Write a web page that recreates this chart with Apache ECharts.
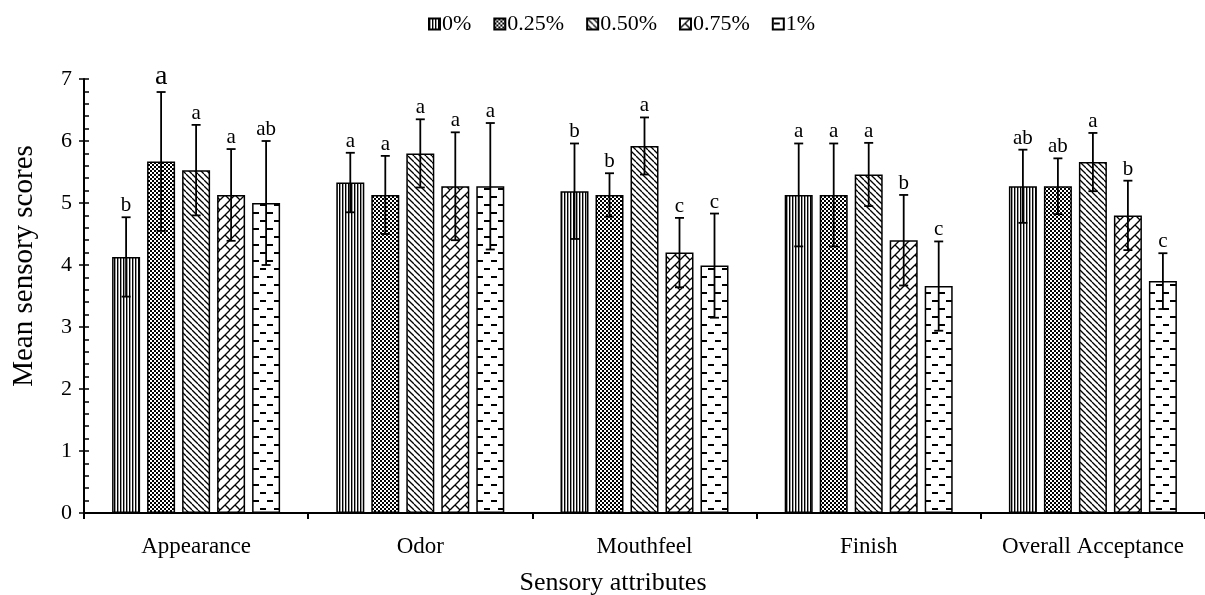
<!DOCTYPE html>
<html>
<head>
<meta charset="utf-8">
<script src="https://cdn.jsdelivr.net/npm/echarts@6/dist/echarts.min.js"></script>
<style>
html,body{margin:0;padding:0;background:#fff;}
#chart{width:1205px;height:595px;}
</style>
</head>
<body>
<div id="chart"></div>
<script>
// ---- data ----
const categories = ['Appearance', 'Odor', 'Mouthfeel', 'Finish', 'Overall Acceptance'];
const seriesNames = ['0%', '0.25%', '0.50%', '0.75%', '1%'];
const mean0   = [4.13, 5.33, 5.19, 5.13, 5.27];
const mean025 = [5.67, 5.13, 5.13, 5.13, 5.27];
const mean050 = [5.53, 5.80, 5.92, 5.46, 5.66];
const mean075 = [5.13, 5.27, 4.20, 4.40, 4.80];
const mean1   = [5.00, 5.27, 3.99, 3.66, 3.74];
const sd0   = [0.64, 0.48, 0.77, 0.83, 0.59];
const sd025 = [1.12, 0.63, 0.35, 0.83, 0.45];
const sd050 = [0.73, 0.55, 0.46, 0.51, 0.47];
const sd075 = [0.74, 0.87, 0.56, 0.73, 0.56];
const sd1   = [1.00, 1.02, 0.84, 0.72, 0.45];
const letters0   = ['b', 'a', 'b', 'a', 'ab'];
const letters025 = ['a', 'a', 'b', 'a', 'ab'];
const letters050 = ['a', 'a', 'a', 'a', 'a'];
const letters075 = ['a', 'a', 'c', 'b', 'b'];
const letters1   = ['ab', 'a', 'c', 'c', 'c'];
const yTicks = [0, 1, 2, 3, 4, 5, 6, 7];

const means = [mean0, mean025, mean050, mean075, mean1];
const sds = [sd0, sd025, sd050, sd075, sd1];
const letters = [letters0, letters025, letters050, letters075, letters1];

// ---- patterns ----
function pat(w, h, draw) {
  const c = document.createElement('canvas');
  c.width = w; c.height = h;
  const g = c.getContext('2d');
  g.fillStyle = '#fff'; g.fillRect(0, 0, w, h);
  g.fillStyle = '#000'; g.strokeStyle = '#000';
  draw(g, w, h);
  return c;
}
const patterns = [
  pat(3, 3, g => { g.fillRect(0, 0, 1.4, 3); }),
  pat(4, 4, g => { g.fillRect(0, 0, 2, 2); g.fillRect(2, 2, 2, 2); }),
  pat(6, 6, (g, w) => {
    g.lineWidth = 1.3;
    [-w, 0, w].forEach(k => { g.beginPath(); g.moveTo(k, 0); g.lineTo(k + w, w); g.stroke(); });
  }),
  pat(10, 10, (g, s) => {
    g.lineWidth = 1.3;
    [-s, 0, s].forEach(k => { g.beginPath(); g.moveTo(k, s); g.lineTo(k + s, 0); g.stroke(); });
    g.beginPath(); g.moveTo(s / 2, s / 2); g.lineTo(s, s); g.stroke();
    g.beginPath(); g.moveTo(s / 2 - s, s / 2); g.lineTo(0, s); g.stroke();
  }),
  pat(14, 16, g => { g.fillRect(1, 4, 6, 2); g.fillRect(8, 12, 6, 2); })
];

const FONT = '"Liberation Serif", "Times New Roman", serif';
const BAR_W = 28, BAR_GAP = 7;

const barSeries = seriesNames.map((name, i) => ({
  name: name,
  type: 'bar',
  data: means[i],
  barWidth: BAR_W,
  barGap: (BAR_GAP / BAR_W * 100) + '%',
  itemStyle: { color: { image: patterns[i], repeat: 'repeat' }, borderColor: '#000', borderWidth: 1.5 },
  z: 2
}));

const errRows = [];
const errLetters = [];
categories.forEach((c, ci) => {
  seriesNames.forEach((n, si) => {
    errRows.push([ci, si, means[si][ci], sds[si][ci]]);
    errLetters.push(letters[si][ci]);
  });
});

const errSeries = {
  type: 'custom',
  name: 'err',
  data: errRows,
  encode: { x: 0, y: 2 },
  z: 10,
  silent: true,
  renderItem: function (params, api) {
    const ci = api.value(0), si = api.value(1), m = api.value(2), s = api.value(3);
    const c = api.coord([ci, m]);
    const x = c[0] + (si - 2) * (BAR_W + BAR_GAP);
    const top = api.coord([ci, m + s])[1];
    const bot = api.coord([ci, m - s])[1];
    const cap = 4.5;
    const ls = { stroke: '#000', lineWidth: 1.8 };
    const big = (ci === 0 && si === 1);
    return {
      type: 'group',
      children: [
        { type: 'line', shape: { x1: x, y1: top, x2: x, y2: bot }, style: ls },
        { type: 'line', shape: { x1: x - cap, y1: top, x2: x + cap, y2: top }, style: ls },
        { type: 'line', shape: { x1: x - cap, y1: bot, x2: x + cap, y2: bot }, style: ls },
        { type: 'text', x: x, y: top - 1,
          style: { text: errLetters[params.dataIndex], fill: '#000', fontFamily: FONT,
                   fontSize: big ? 28 : 21, align: 'center', verticalAlign: 'bottom' } }
      ]
    };
  }
};

const chart = echarts.init(document.getElementById('chart'), null, { renderer: 'canvas' });
chart.setOption({
  animation: false,
  backgroundColor: '#fff',
  textStyle: { fontFamily: FONT, color: '#000' },
  legend: {
    data: seriesNames,
    icon: 'rect',
    left: 423, top: 8,
    itemWidth: 11, itemHeight: 11, itemGap: 22,
    textStyle: { fontFamily: FONT, fontSize: 22, color: '#000', padding: [0, 0, 0, -3] }
  },
  grid: { left: 84, top: 79, height: 434, width: 1132, containLabel: false },
  xAxis: {
    type: 'category',
    data: categories,
    axisLine: { lineStyle: { color: '#000', width: 2 } },
    axisTick: { show: true, interval: 0, length: 6, lineStyle: { color: '#000', width: 2 } },
    axisLabel: { interval: 0, fontFamily: FONT, fontSize: 23, color: '#000', margin: 22 },
    splitLine: { show: false }
  },
  yAxis: [{
    type: 'value', min: 0, max: 7, interval: 1,
    axisLine: { show: true, lineStyle: { color: '#000', width: 2 } },
    axisTick: { show: true, inside: true, length: 5, lineStyle: { color: '#000', width: 1.5 } },
    minorTick: { show: true, splitNumber: 5, length: 5, lineStyle: { color: '#000', width: 1.5 } },
    axisLabel: { fontFamily: FONT, fontSize: 22, color: '#000', margin: 12,
                 formatter: v => (yTicks.indexOf(v) >= 0 ? String(v) : '') },
    splitLine: { show: false }
  }, {
    type: 'value', min: 0, max: 7, interval: 1, position: 'left',
    axisLine: { show: false },
    axisTick: { show: true, inside: false, length: 5, lineStyle: { color: '#000', width: 1.5 } },
    axisLabel: { show: false },
    splitLine: { show: false }
  }],
  graphic: [
    { type: 'text', x: 613, y: 583,
      style: { text: 'Sensory attributes', fontFamily: FONT, fontSize: 26, fill: '#000', align: 'center', verticalAlign: 'middle' } },
    { type: 'text', x: 24, y: 266, rotation: Math.PI / 2,
      style: { text: 'Mean sensory scores', fontFamily: FONT, fontSize: 29, fill: '#000', align: 'center', verticalAlign: 'middle' } }
  ],
  series: barSeries.concat([errSeries])
});
</script>
</body>
</html>
